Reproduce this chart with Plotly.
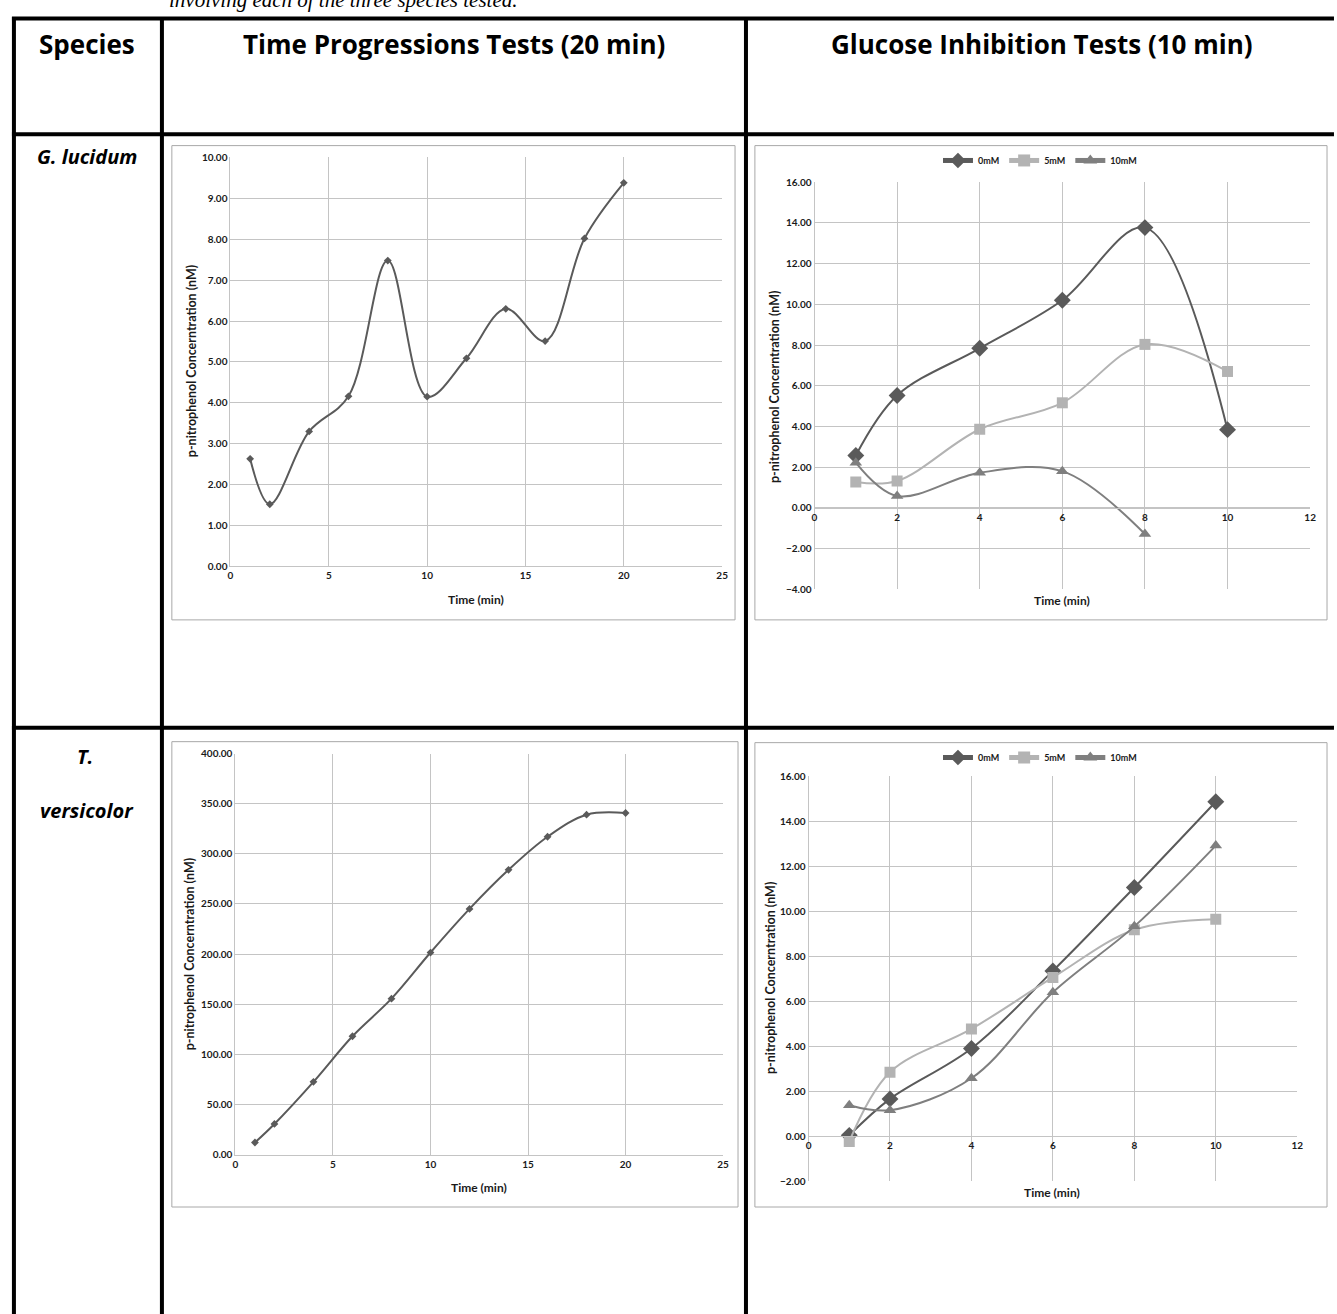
import plotly.graph_objects as go

W, H = 1337, 1314

# ---------------- data ----------------
time_tp = [1, 2, 4, 6, 8, 10, 12, 14, 16, 18, 20]
gl_tp = [2.63, 1.52, 3.30, 4.16, 7.48, 4.15, 5.09, 6.30, 5.51, 8.02, 9.38]
tv_tp = [12.0, 30.5, 72.5, 118.0, 155.5, 201.5, 245.0, 284.0, 317.0, 339.0, 340.7]

time_gi = [1, 2, 4, 6, 8, 10]
gl_0 = [2.57, 5.52, 7.84, 10.20, 13.77, 3.84]
gl_5 = [1.27, 1.32, 3.86, 5.16, 8.03, 6.70]
gl_10 = [2.22, 0.58, 1.72, 1.80, -1.29]
tv_0 = [0.04, 1.66, 3.90, 7.35, 11.06, 14.87]
tv_5 = [-0.23, 2.85, 4.77, 7.06, 9.18, 9.65]
tv_10 = [1.38, 1.16, 2.58, 6.40, 9.33, 12.92]

series_names = ["0mM", "5mM", "10mM"]
headers = ["Species", "Time Progressions Tests (20 min)", "Glucose Inhibition Tests (10 min)"]
species_1 = "G. lucidum"
species_2a, species_2b = "T.", "versicolor"
caption = "involving each of the three species tested."
x_title = "Time (min)"
y_title = "p-nitrophenol Concerntration (nM)"

# ---------------- helpers ----------------
def px(x):
    return x / W

def py(y):
    return 1 - y / H

DARK = "#5a5a5a"
LIGHT = "#b3b3b3"
MID = "#7f7f7f"
GRID = "#c4c4c4"
FONT = "Lato"
tickfont = dict(family=FONT, size=10, color="#1a1a1a", weight="bold")

fig = go.Figure()

# chart 1 & 3 : time progression
fig.add_trace(go.Scatter(x=time_tp, y=gl_tp, mode="lines+markers", line=dict(color=DARK, width=2, shape="spline"),
                         marker=dict(symbol="diamond", size=6, color=DARK), showlegend=False, xaxis="x", yaxis="y"))
fig.add_trace(go.Scatter(x=time_tp, y=tv_tp, mode="lines+markers", line=dict(color=DARK, width=2, shape="spline"),
                         marker=dict(symbol="diamond", size=6, color=DARK), showlegend=False, xaxis="x3", yaxis="y3"))

styles = [(DARK, "diamond", 13), (LIGHT, "square", 11), (MID, "triangle-up", 11)]
for (c, sym, sz), name, yv in zip(styles, series_names, [gl_0, gl_5, gl_10]):
    fig.add_trace(go.Scatter(x=time_gi[:len(yv)], y=yv, name=name, mode="lines+markers",
                             line=dict(color=c, width=2, shape="spline"),
                             marker=dict(symbol=sym, size=sz, color=c), xaxis="x2", yaxis="y2", legend="legend"))
for (c, sym, sz), name, yv in zip(styles, series_names, [tv_0, tv_5, tv_10]):
    fig.add_trace(go.Scatter(x=time_gi[:len(yv)], y=yv, name=name, mode="lines+markers",
                             line=dict(color=c, width=2, shape="spline"),
                             marker=dict(symbol=sym, size=sz, color=c), xaxis="x4", yaxis="y4", legend="legend2"))

def xax(dom, rng, dt, anchor, position=None):
    d = dict(domain=[px(dom[0]), px(dom[1])], range=rng, dtick=dt, tick0=0, showgrid=True, gridcolor=GRID,
             gridwidth=1, zeroline=False, showline=True, linecolor=GRID, tickfont=tickfont, fixedrange=True)
    if position is None:
        d["anchor"] = anchor
    else:
        d["anchor"] = "free"
        d["position"] = position
    return d

def yax(dom, rng, dt, anchor):
    return dict(domain=[py(dom[1]), py(dom[0])], range=rng, dtick=dt, tick0=0, tickformat=".2f", showgrid=True,
                gridcolor=GRID, gridwidth=1, zeroline=True, zerolinecolor=GRID, zerolinewidth=1, showline=True,
                linecolor=GRID, tickfont=tickfont, anchor=anchor, fixedrange=True)

# plot-area pixel boxes
c1 = (229, 724, 152, 565)
c2 = (817, 1316, 177, 588)
c3 = (234, 725, 754, 1159)
c4 = (811, 1303, 777, 1186)

zero2 = py(c2[2] + (c2[3] - c2[2]) * 16 / 20)
zero4 = py(c4[2] + (c4[3] - c4[2]) * 16 / 18)

legfont = dict(family=FONT, size=9, color="#1a1a1a", weight="bold")
layout = dict(
    width=W, height=H, margin=dict(l=0, r=0, t=0, b=0),
    paper_bgcolor="white", plot_bgcolor="white",
    xaxis=xax(c1[:2], [0, 25], 5, "y"),
    yaxis=yax(c1[2:], [0, 10], 1, "x"),
    xaxis2=xax(c2[:2], [0, 12], 2, "y2", zero2),
    yaxis2=yax(c2[2:], [-4, 16], 2, "x2"),
    xaxis3=xax(c3[:2], [0, 25], 5, "y3"),
    yaxis3=yax(c3[2:], [0, 400], 50, "x3"),
    xaxis4=xax(c4[:2], [0, 12], 2, "y4", zero4),
    yaxis4=yax(c4[2:], [-2, 16], 2, "x4"),
    legend=dict(orientation="h", x=px(1044), y=py(155), xanchor="center", yanchor="middle",
                font=legfont, itemwidth=30, itemsizing="constant",
                bgcolor="rgba(0,0,0,0)", tracegroupgap=0),
    legend2=dict(orientation="h", x=px(1044), y=py(758), xanchor="center", yanchor="middle",
                 font=legfont, itemwidth=30, itemsizing="constant",
                 bgcolor="rgba(0,0,0,0)", tracegroupgap=0),
)
fig.update_layout(**layout)

shapes = []
# chart boxes
for (x0, x1, y0, y1) in [(170, 737, 140, 619), (757, 1333, 140, 619), (170, 740, 742, 1212), (757, 1333, 743, 1212)]:
    shapes.append(dict(type="rect", xref="paper", yref="paper", x0=px(x0), x1=px(x1), y0=py(y1), y1=py(y0),
                       line=dict(color="#a8a8a8", width=1)))
# table lines
TL = dict(color="black", width=4)
for yy in [11.5, 128.5, 728]:
    shapes.append(dict(type="line", xref="paper", yref="paper", x0=px(9), x1=px(1340), y0=py(yy), y1=py(yy), line=TL))
for xx in [11, 160, 748]:
    shapes.append(dict(type="line", xref="paper", yref="paper", x0=px(xx), x1=px(xx), y0=py(10), y1=py(1320), line=TL))
fig.update_layout(shapes=shapes)

ann = []
hfont = dict(family="Open Sans", size=26, color="black", weight="bold")
ann.append(dict(text=headers[0], x=px(85), y=py(37), font=hfont))
ann.append(dict(text=headers[1], x=px(454), y=py(37), font=hfont))
ann.append(dict(text=headers[2], x=px(1046), y=py(37), font=hfont))
sfont = dict(family="Open Sans", size=20, color="black", weight="bold", style="italic")
ann.append(dict(text=species_1, x=px(85), y=py(151), font=sfont))
ann.append(dict(text=species_2a, x=px(83), y=py(757), font=sfont))
ann.append(dict(text=species_2b, x=px(85), y=py(812), font=sfont))
ann.append(dict(text=caption, x=px(165), y=py(7), xanchor="left", yanchor="bottom",
                font=dict(family="Liberation Serif", size=21, color="black", style="italic")))

afont = dict(family=FONT, size=12, color="#1a1a1a", weight="bold")
for (xx, yy) in [(476, 598), (1066, 599), (479, 1192), (1056, 1197)]:
    ann.append(dict(text=x_title, x=px(xx), y=py(yy), font=afont))
for (xx, yy) in [(190, 358), (776, 384), (188, 957), (772, 981)]:
    ann.append(dict(text=y_title, x=px(xx), y=py(yy), font=dict(family=FONT, size=12.5, color="#1a1a1a", weight="bold"),
                    textangle=-90))
for a in ann:
    a.update(xref="paper", yref="paper", showarrow=False)
    a.setdefault("xanchor", "center")
    a.setdefault("yanchor", "middle")
fig.update_layout(annotations=ann)

post = ("document.documentElement.style.margin='0';document.body.style.margin='0';"
        "document.body.style.padding='0';document.documentElement.style.overflow='hidden';"
        "document.body.style.overflow='hidden';")
fig.write_html("out.html", post_script=post, config={"displayModeBar": False})
